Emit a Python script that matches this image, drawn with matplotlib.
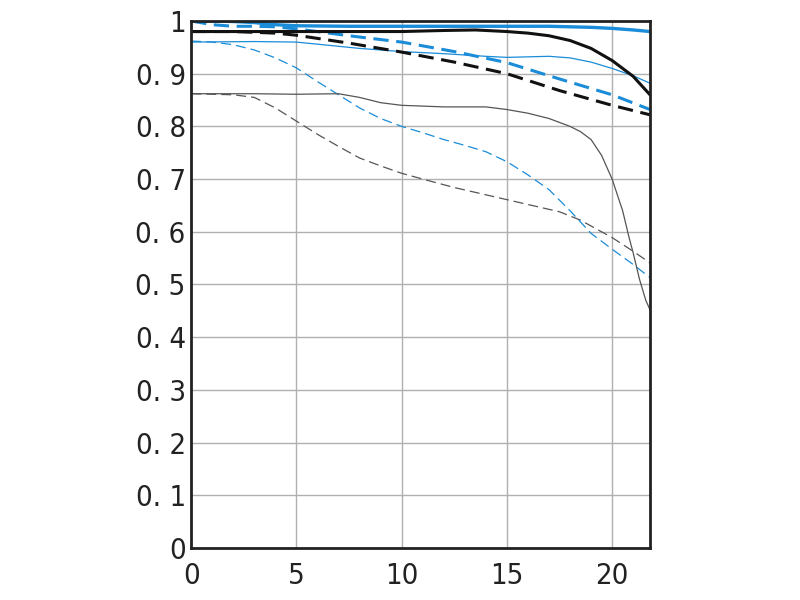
import matplotlib
matplotlib.use("Agg")
import matplotlib.pyplot as plt
import numpy as np

# Thick blue solid
x_bs = [0, 1, 2, 3, 4, 5, 7.5, 10, 12.5, 15, 17, 19, 20, 21, 21.8]
y_bs = [1.0, 1.0, 0.999, 0.997, 0.993, 0.991, 0.99, 0.99, 0.99, 0.99, 0.99, 0.988, 0.986, 0.983, 0.98]
# Thick black solid
x_ks = [0, 5, 10, 12, 13.5, 15, 16, 17, 18, 19, 20, 21, 21.8]
y_ks = [0.98, 0.98, 0.98, 0.982, 0.983, 0.98, 0.977, 0.972, 0.963, 0.948, 0.925, 0.895, 0.86]
# Thin blue solid
x_bt = [0, 3, 5, 7, 8, 10, 12, 14, 15, 16, 17, 18, 19, 20, 21, 21.8]
y_bt = [0.96, 0.961, 0.96, 0.952, 0.948, 0.942, 0.938, 0.933, 0.931, 0.932, 0.933, 0.93, 0.922, 0.91, 0.896, 0.882]
# Thick blue dashed
x_bd = [0, 1, 2, 3, 4, 5, 6, 7.5, 10, 12.5, 15, 17.5, 20, 21.8]
y_bd = [1.0, 0.993, 0.99, 0.99, 0.989, 0.985, 0.98, 0.972, 0.96, 0.942, 0.921, 0.89, 0.86, 0.832]
# Thick black dashed
x_kd = [0, 2, 4, 5, 7.5, 10, 12.5, 15, 17.5, 20, 21.8]
y_kd = [0.98, 0.98, 0.977, 0.973, 0.958, 0.941, 0.922, 0.90, 0.868, 0.84, 0.822]
# Thin black solid
x_kt = [0, 3, 5, 7, 8, 9, 10, 12, 14, 15, 16, 17, 18, 18.5, 19, 19.5, 20, 20.5, 20.8, 21, 21.3, 21.6, 21.8]
y_kt = [0.862, 0.862, 0.861, 0.862, 0.855, 0.845, 0.84, 0.837, 0.837, 0.832, 0.825, 0.815, 0.80, 0.79, 0.775, 0.745, 0.70, 0.64, 0.59, 0.56, 0.51, 0.47, 0.452]
# Thin blue dashed
x_btd = [0, 1, 2, 3, 4, 5, 6, 7, 8, 9, 10, 11, 12, 13, 14, 15, 16, 17, 18, 19, 20, 21, 21.8]
y_btd = [0.962, 0.96, 0.955, 0.945, 0.93, 0.911, 0.885, 0.86, 0.835, 0.815, 0.80, 0.788, 0.775, 0.764, 0.752, 0.733, 0.708, 0.68, 0.64, 0.597, 0.567, 0.538, 0.513]
# Thin black dashed
x_ktd = [0, 2, 3, 4, 5, 6, 7, 8, 9, 10, 11, 12.5, 15, 17.5, 18.5, 19.5, 20, 21, 21.8]
y_ktd = [0.862, 0.86, 0.855, 0.835, 0.81, 0.785, 0.762, 0.74, 0.725, 0.711, 0.70, 0.684, 0.661, 0.638, 0.622, 0.60, 0.589, 0.563, 0.541]

x_ticks = [0, 5, 10, 15, 20]
y_ticks = [0, 0.1, 0.2, 0.3, 0.4, 0.5, 0.6, 0.7, 0.8, 0.9, 1.0]
y_labels = ["0", "0. 1", "0. 2", "0. 3", "0. 4", "0. 5", "0. 6", "0. 7", "0. 8", "0. 9", "1"]

BLUE = "#1a8cd8"
GREY = "#555555"

fig = plt.figure(figsize=(8, 6), dpi=100)
ax = fig.add_axes([0.239, 0.0867, 0.5735, 0.8783])

ax.plot(x_ktd, y_ktd, color=GREY, lw=0.9, dashes=(8, 4))
ax.plot(x_btd, y_btd, color=BLUE, lw=0.9, dashes=(8, 4))
ax.plot(x_kt, y_kt, color=GREY, lw=0.9)
ax.plot(x_bt, y_bt, color=BLUE, lw=0.9)
ax.plot(x_kd, y_kd, color="#111111", lw=2.2, dashes=(5, 2.5))
ax.plot(x_bd, y_bd, color=BLUE, lw=2.2, dashes=(5, 2.5))
ax.plot(x_ks, y_ks, color="#111111", lw=2.2)
ax.plot(x_bs, y_bs, color=BLUE, lw=2.4)

ax.set_xlim(0, 21.8)
ax.set_ylim(0, 1)
ax.set_xticks(x_ticks)
ax.set_yticks(y_ticks)
ax.set_yticklabels(y_labels)
ax.grid(True, color="#b0b0b0", lw=1.0)
ax.set_axisbelow(True)
ax.tick_params(axis="y", length=0, pad=4, labelsize=21)
ax.tick_params(axis="x", length=0, pad=10, labelsize=21)
for lab in ax.get_xticklabels() + ax.get_yticklabels():
    lab.set_fontfamily(["DejaVu Sans"])
    lab.set_fontstretch("condensed")
    lab.set_color("#222222")
for s in ax.spines.values():
    s.set_linewidth(2)
    s.set_color("#222222")

fig.savefig("out.png", dpi=100)
